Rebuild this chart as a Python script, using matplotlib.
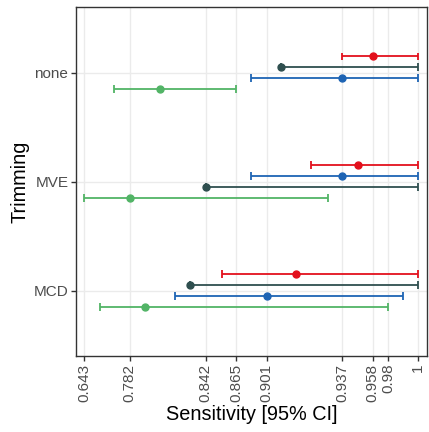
import matplotlib
matplotlib.use("Agg")
import matplotlib.pyplot as plt
import numpy as np

plt.rcParams['font.family'] = ['Liberation Sans', 'DejaVu Sans']

# categories, bottom to top
trimming = ["MCD", "MVE", "none"]

# estimates and 95% CI per series (order follows trimming)
red_est = [0.915, 0.948, 0.958]
red_lo = [0.854, 0.922, 0.937]
red_hi = [1.0, 1.0, 1.0]

dark_est = [0.830, 0.842, 0.908]
dark_lo = [0.830, 0.842, 0.908]
dark_hi = [1.0, 1.0, 1.0]

blue_est = [0.901, 0.937, 0.937]
blue_lo = [0.818, 0.883, 0.883]
blue_hi = [0.990, 1.0, 1.0]

green_est = [0.794, 0.782, 0.806]
green_lo = [0.690, 0.643, 0.735]
green_hi = [0.980, 0.930, 0.865]

# dodge order (top to bottom) within each category
dodge_order = {
    "MCD": ["red", "dark", "blue", "green"],
    "MVE": ["red", "blue", "dark", "green"],
    "none": ["red", "dark", "blue", "green"],
}

tick_vals = [0.643, 0.782, 0.842, 0.865, 0.901, 0.937, 0.958, 0.98, 1.0]
tick_labels = ["0.643", "0.782", "0.842", "0.865", "0.901", "0.937", "0.958", "0.98", "1"]
# relative positions of the breaks on the (non-linear) axis
tick_pos = np.array([0, 45.4, 121.4, 151.7, 182.4, 258.0, 288.4, 304.0, 334.0])

series = {
    "red": (red_est, red_lo, red_hi, "#E3101C"),
    "dark": (dark_est, dark_lo, dark_hi, "#2F4F4F"),
    "blue": (blue_est, blue_lo, blue_hi, "#1E64B4"),
    "green": (green_est, green_lo, green_hi, "#52B466"),
}

tv = np.array(tick_vals)
s0 = (tick_pos[1] - tick_pos[0]) / (tv[1] - tv[0])
s1 = (tick_pos[-1] - tick_pos[-2]) / (tv[-1] - tv[-2])


def fwd(x):
    x = np.asarray(x, dtype=float)
    y = np.interp(x, tv, tick_pos)
    y = np.where(x < tv[0], tick_pos[0] + (x - tv[0]) * s0, y)
    y = np.where(x > tv[-1], tick_pos[-1] + (x - tv[-1]) * s1, y)
    return y


def inv(y):
    y = np.asarray(y, dtype=float)
    x = np.interp(y, tick_pos, tv)
    x = np.where(y < tick_pos[0], tv[0] + (y - tick_pos[0]) / s0, x)
    x = np.where(y > tick_pos[-1], tv[-1] + (y - tick_pos[-1]) / s1, x)
    return x


fig = plt.figure(figsize=(4.29, 4.32), dpi=100)
ax = fig.add_axes([76 / 429, 1 - 356 / 432, (426.7 - 76) / 429, (356 - 7.3) / 432])
ax.set_xscale("function", functions=(fwd, inv))

offsets = [0.15, 0.05, -0.05, -0.15]
for i, cat in enumerate(trimming):
    y0 = i + 1
    for off, key in zip(offsets, dodge_order[cat]):
        est, lo, hi, col = series[key]
        y = y0 + off
        ax.hlines(y, lo[i], hi[i], color=col, lw=1.3, zorder=3)
        for xe in (lo[i], hi[i]):
            ax.vlines(xe, y - 0.035, y + 0.035, color=col, lw=1.3, zorder=3)
        ax.plot(est[i], y, "o", color=col, ms=5, zorder=4)

ax.set_xlim(inv(-8.3), inv(342.4))
ax.set_ylim(0.4, 3.6)
ax.set_xticks(tick_vals)
ax.set_xticklabels(tick_labels, rotation=90)
ax.set_yticks([1, 2, 3])
ax.set_yticklabels(trimming)
ax.minorticks_off()

ax.grid(True, color="#EBEBEB", lw=1.0, zorder=0)
ax.set_axisbelow(True)
for sp in ax.spines.values():
    sp.set_color("#333333")
    sp.set_linewidth(1.0)
ax.tick_params(axis="both", colors="#333333", length=3.5, width=1.0,
               labelsize=11, labelcolor="#4D4D4D", pad=2)

ax.set_xlabel("Sensitivity [95% CI]", fontsize=14.3, labelpad=2)
ax.set_ylabel("Trimming", fontsize=14.3, labelpad=3)

fig.savefig("out.png", dpi=100)
